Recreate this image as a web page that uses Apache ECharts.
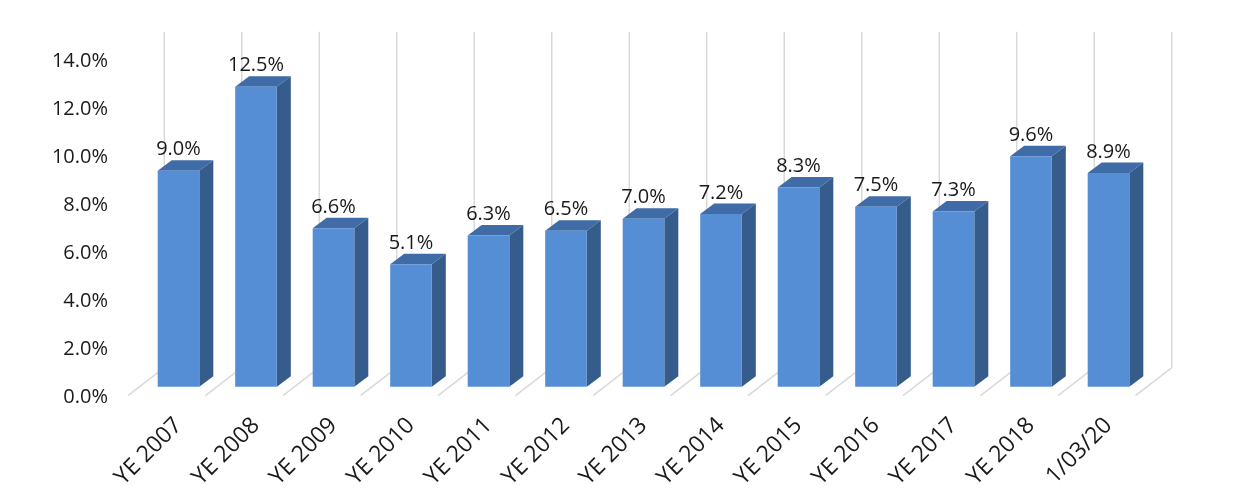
<!DOCTYPE html>
<html>
<head>
<meta charset="utf-8">
<script src="https://cdn.jsdelivr.net/npm/echarts@6/dist/echarts.min.js"></script>
<style>
html,body{margin:0;padding:0;background:#fff;}
#chart{width:1234px;height:502px;}
</style>
</head>
<body>
<div id="chart"></div>
<script>
const categories = ['YE 2007','YE 2008','YE 2009','YE 2010','YE 2011','YE 2012','YE 2013','YE 2014','YE 2015','YE 2016','YE 2017','YE 2018','1/03/20'];
const values = [9.0, 12.5, 6.6, 5.1, 6.3, 6.5, 7.0, 7.2, 8.3, 7.5, 7.3, 9.6, 8.9];
const yTicks = [0, 2, 4, 6, 8, 10, 12, 14];

const boundaries = [];
for (let k = 0; k <= categories.length; k++) boundaries.push(k);

const FONT = '"Open Sans", "Noto Sans", sans-serif';
const BAR_DX = 14, BAR_DY = -10.5;      // bar depth
const FRONT_DX = -11.75, FRONT_DY = 9;  // floor front edge offset from bar plane
const BACK_DX = 24.5, BACK_DY = -19;    // back wall offset from bar plane
const GRID_COLOR = '#d9d9d9';

const chart = echarts.init(document.getElementById('chart'));

chart.setOption({
  animation: false,
  backgroundColor: '#ffffff',
  grid: [
    { left: 139.75, top: 50.7, width: 1007.5, height: 336 },
    { left: 128, top: 61.2, width: 1007.5, height: 336 }
  ],
  xAxis: [
    {
      type: 'category', gridIndex: 0, data: categories,
      axisLine: { show: false }, axisTick: { show: false },
      axisLabel: { rotate: 45, margin: 35, fontSize: 23, color: '#1a1a1a', fontFamily: FONT, interval: 0 }
    },
    { type: 'category', gridIndex: 1, data: categories, show: false }
  ],
  yAxis: [
    { type: 'value', gridIndex: 0, min: 0, max: 14, interval: 2, show: false },
    {
      type: 'value', gridIndex: 1, min: yTicks[0], max: yTicks[yTicks.length - 1], interval: 2,
      axisLine: { show: false }, axisTick: { show: false }, splitLine: { show: false },
      axisLabel: { margin: 20, fontSize: 20, color: '#1a1a1a', fontFamily: FONT,
        formatter: v => v.toFixed(1) + '%' }
    }
  ],
  series: [
    {
      type: 'custom',
      xAxisIndex: 0, yAxisIndex: 0,
      data: boundaries.map(k => [k]),
      silent: true,
      z: 1,
      renderItem: function (params, api) {
        const k = api.value(0);
        const idx = Math.min(k, categories.length - 1);
        const band = api.size([1, 0])[0];
        const c = api.coord([idx, 0]);
        const bx = c[0] - band / 2 + (k - idx) * band;
        const by = c[1];
        const topY = api.coord([idx, 14])[1];
        return {
          type: 'group',
          children: [
            { type: 'line', shape: { x1: bx + FRONT_DX, y1: by + FRONT_DY, x2: bx + BACK_DX, y2: by + BACK_DY },
              style: { stroke: GRID_COLOR, lineWidth: 1.5 } },
            { type: 'line', shape: { x1: bx + BACK_DX, y1: by + BACK_DY, x2: bx + BACK_DX, y2: topY + BACK_DY },
              style: { stroke: GRID_COLOR, lineWidth: 1.5 } }
          ]
        };
      }
    },
    {
      type: 'custom',
      xAxisIndex: 0, yAxisIndex: 0,
      data: values.map((v, i) => [i, v]),
      z: 2,
      renderItem: function (params, api) {
        const i = api.value(0), v = api.value(1);
        const base = api.coord([i, 0]);
        const top = api.coord([i, v]);
        const bw = api.size([1, 0])[0] * 0.537;
        const x0 = base[0] - bw / 2, x1 = base[0] + bw / 2;
        const yt = top[1], yb = base[1];
        return {
          type: 'group',
          children: [
            { type: 'polygon', shape: { points: [[x1, yt], [x1 + BAR_DX, yt + BAR_DY], [x1 + BAR_DX, yb + BAR_DY], [x1, yb]] },
              style: { fill: '#365c8c' } },
            { type: 'polygon', shape: { points: [[x0, yt], [x0 + BAR_DX, yt + BAR_DY], [x1 + BAR_DX, yt + BAR_DY], [x1, yt]] },
              style: { fill: '#3f6ba6' } },
            { type: 'rect', shape: { x: x0, y: yt, width: bw, height: yb - yt },
              style: { fill: '#568ed6' } },
            { type: 'text', x: base[0], y: yt - 21,
              style: { text: v.toFixed(1) + '%', fontSize: 20, fontFamily: FONT, fill: '#1a1a1a',
                align: 'center', verticalAlign: 'middle' } }
          ]
        };
      }
    }
  ]
});
</script>
</body>
</html>
